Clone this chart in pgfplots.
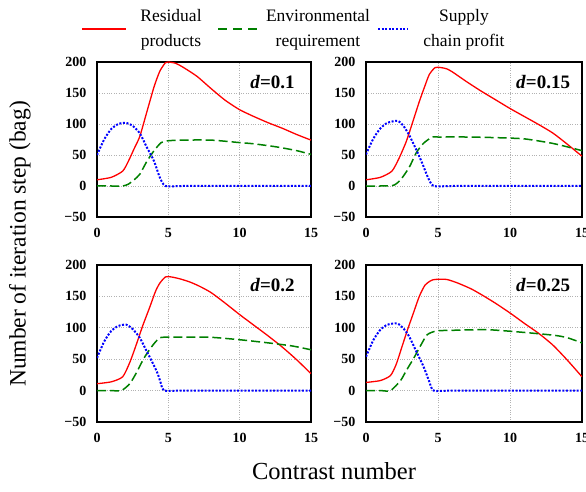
\documentclass[border=0pt]{standalone}
\usepackage{fontspec}
\setmainfont{Liberation Serif}
\usepackage{pgfplots}
\pgfplotsset{compat=1.18}

\pgfplotsset{
  panel/.style={
    scale only axis,
    xmin=0, xmax=15, ymin=-50, ymax=200,
    xtick={0,5,10,15}, ytick={-50,0,50,100,150,200},
    yticklabels={−50,0,50,100,150,200},
    grid=major, grid style={dotted, gray!60, line width=0.7pt},
    axis line style={line width=1.6pt},
    major tick length=0pt,
    ticklabel style={font=\fontsize{14}{16}\selectfont\bfseries},
    /pgf/number format/assume math mode=true,
    xticklabel style={yshift=-8pt},
    yticklabel style={xshift=-7pt},
  },
  resid/.style={red, line width=1.3pt, smooth, tension=0.4},
  envir/.style={green!50!black, line width=1.5pt, dash pattern=on 9pt off 4pt, smooth, tension=0.4},
  profit/.style={blue, line width=2pt, dash pattern=on 2pt off 1.6pt, smooth, tension=0.4},
}
\newcommand{\dlabel}[1]{\node[font=\fontsize{19}{21}\selectfont\bfseries] at (axis cs:12.3,168) {\textit{d}=#1};}

\begin{document}
\begin{tikzpicture}[x=1pt,y=1pt]
\path[use as bounding box] (0,0) rectangle (586,492);

% legend
\draw[red, line width=1.3pt] (82,463) -- (126,463);
\node[align=center, font=\fontsize{17.5}{25}\selectfont] at (171,462) {Residual\\products};
\draw[green!50!black, line width=1.5pt, dash pattern=on 9pt off 6pt] (218,463) -- (262,463);
\node[align=center, font=\fontsize{17.5}{25}\selectfont] at (318,462) {Environmental\\requirement};
\draw[blue, line width=2pt, dash pattern=on 2pt off 1.6pt] (378,463) -- (408,463);
\node[align=center, font=\fontsize{17.5}{25}\selectfont] at (464,462) {Supply\\chain profit};

\node[rotate=90, font=\fontsize{23.5}{26}\selectfont] at (20,248) {Number of iteration step (bag)};
\node[font=\fontsize{24.5}{27}\selectfont] at (334,21) {Contrast number};

% d = 0.1
\begin{axis}[panel, width=214pt, height=155pt, at={(97pt,275pt)}, anchor=south west]
\addplot[resid] coordinates {(0,10) (1,14) (1.8,24) (2.2,40) (2.6,60) (3,80) (3.5,120) (4,160) (4.4,185) (4.8,199) (5,200) (5.5,198) (6,192) (7,177) (8,157) (9,138) (10,123) (11,112) (12,102) (13,93) (14,83) (15,74)};
\addplot[envir] coordinates {(0,0) (1,0) (1.8,0) (2.2,3) (2.6,10) (3,19) (3.5,40) (4,57) (4.5,70) (5,73) (6,74) (8,74) (10,70) (11,68) (12.6,63) (14,57) (15,51)};
\addplot[profit] coordinates {(0,50) (0.5,75) (1,92) (1.5,100) (2,102) (2.5,97) (3,85) (3.5,62) (4,40) (4.4,14) (4.8,0) (6,0) (10,0) (15,0)};
\dlabel{0.1}
\end{axis}

% d = 0.15
\begin{axis}[panel, width=216pt, height=155pt, at={(366pt,275pt)}, anchor=south west]
\addplot[resid] coordinates {(0,10) (1,14) (1.8,24) (2.3,45) (2.8,72) (3.2,100) (3.7,136) (4.1,162) (4.4,180) (4.8,191) (5.2,191) (5.6,189) (6,184) (7,168) (8,153) (9,139) (10,125) (11,112) (12,99) (13,85) (14,67) (15,48)};
\addplot[envir] coordinates {(0,0) (1,0) (1.9,1) (2.4,10) (3,30) (3.5,54) (4,69) (4.6,79) (5,79) (7,79) (9,78) (11,76) (12.9,69) (14,63) (15,57)};
\addplot[profit] coordinates {(0,51) (0.5,76) (1,93) (1.5,102) (2.2,105) (2.6,97) (3,82) (3.5,58) (3.9,37) (4.3,14) (4.7,0) (6,0) (10,0) (15,0)};
\dlabel{0.15}
\end{axis}

% d = 0.2
\begin{axis}[panel, width=214pt, height=157pt, at={(97pt,70pt)}, anchor=south west]
\addplot[resid] coordinates {(0,11) (1,14) (1.8,22) (2.3,45) (2.75,73) (3.2,103) (3.7,133) (4.1,158) (4.4,171) (4.8,181) (5.2,181) (5.8,178) (6.5,173) (7.2,166) (8,156) (9,139) (10,121) (11,104) (12,87) (13,69) (14,49) (15,27)};
\addplot[envir] coordinates {(0,0) (1,0) (1.7,0) (2.3,11) (2.8,30) (3.3,52) (3.9,72) (4.4,84) (5,85) (6,85) (7.9,85) (10,81) (12,76) (13.7,71) (15,65)};
\addplot[profit] coordinates {(0,52) (0.5,78) (1,95) (1.5,103) (2.05,105) (2.5,98) (3,84) (3.5,62) (4.2,30) (4.5,10) (4.7,0) (6,0) (10,0) (15,0)};
\dlabel{0.2}
\end{axis}

% d = 0.25
\begin{axis}[panel, width=216pt, height=157pt, at={(366pt,70pt)}, anchor=south west]
\addplot[resid] coordinates {(0,13) (1,16) (1.7,24) (2.1,42) (2.5,70) (2.9,98) (3.3,124) (3.7,150) (4.1,168) (4.5,175) (4.8,177) (5.6,177) (6.4,171) (7.3,162) (8,153) (9,139) (10.1,122) (11,107) (12,91) (13,72) (14,48) (15,22)};
\addplot[envir] coordinates {(0,0) (1,0) (1.7,0) (2.4,16) (2.8,32) (3.3,51) (3.8,72) (4.25,89) (4.9,95) (6,96) (8.4,97) (10.8,93) (13.1,88) (14,84) (15,76)};
\addplot[profit] coordinates {(0,54) (0.5,80) (1,97) (1.5,105) (2.16,107) (2.6,99) (3,86) (3.5,62) (4,38) (4.4,14) (4.7,0) (6,0) (10,0) (15,0)};
\dlabel{0.25}
\end{axis}
\end{tikzpicture}
\end{document}
